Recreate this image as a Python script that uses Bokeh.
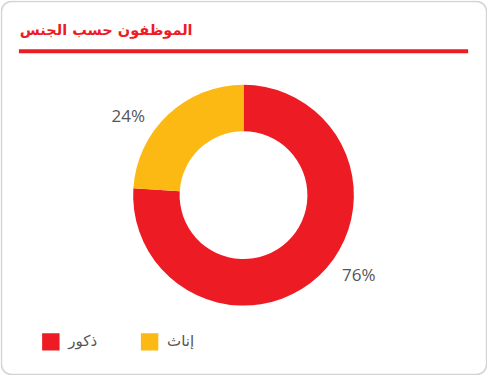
import math
from bokeh.plotting import figure
from bokeh.models import ColumnDataSource, Range1d
from bokeh.core.properties import value
from bokeh.embed import file_html
from bokeh.resources import INLINE

# ---- data ----
categories = ["ذكور", "إناث"]
values = [76, 24]
colors = ["#ED1C24", "#FDB913"]
title_text = "الموظفون حسب الجنس"

W, H = 487, 375        # fits the 503x391 window with its 8px margin
RW, RH = 503, 391      # card coordinate space

def sy(y):             # card y (from top) -> data y (up)
    return RH - y

p = figure(width=W, height=H, output_backend="svg", toolbar_location=None,
           x_range=Range1d(0, RW), y_range=Range1d(0, RH), min_border=0)
p.axis.visible = False
p.grid.visible = False
p.outline_line_color = None
p.background_fill_color = "white"
p.border_fill_color = "white"

# card border
p.quad(left=1, right=RW - 1, bottom=1, top=RH - 1,
       fill_color=None, line_color="#d4d4d4", line_width=1.5, border_radius=10)

# title + rule
p.text(x=[20], y=[sy(31)], text=[title_text], text_color="#ED1C24",
       text_font=value("DejaVu Sans"), text_font_style="bold", text_font_size="14.5px",
       text_align="left", text_baseline="middle")
p.segment(x0=[19], y0=[sy(53)], x1=[483], y1=[sy(53)], line_color="#ED1C24", line_width=4)

# donut
cx, cy = 251, sy(203)
total = sum(values)
starts, ends, mids = [], [], []
acc = 0.0
for v in values:
    a0 = math.pi / 2 - 2 * math.pi * acc / total
    acc += v
    a1 = math.pi / 2 - 2 * math.pi * acc / total
    starts.append(a0); ends.append(a1); mids.append((a0 + a1) / 2)

src = ColumnDataSource(dict(start=starts, end=ends, color=colors))
p.annular_wedge(x=cx, y=cy, inner_radius=66, outer_radius=114,
                start_angle="start", end_angle="end", direction="clock",
                fill_color="color", line_color="white", line_width=0, source=src)

# percent labels
shift = math.radians(12)
lx = [cx + 145 * math.cos(m + shift) for m in mids]
ly = [cy + 145 * math.sin(m + shift) for m in mids]
lbl = [f"{v}%" for v in values]
p.text(x=lx, y=ly, text=lbl, text_color="#555555", text_font=value("Open Sans"),
       text_font_size="17px", text_align="center", text_baseline="middle")

# legend
lgx = [52 + i * 102 for i in range(len(categories))]
p.rect(x=lgx, y=[sy(356)] * len(categories), width=18, height=18,
       fill_color=colors, line_color=None)
p.text(x=[x + 18 for x in lgx], y=[sy(355)] * len(categories), text=categories,
       text_color="#555555", text_font=value("DejaVu Sans"), text_font_size="15px",
       text_align="left", text_baseline="middle")

open("out.html", "w").write(file_html(p, INLINE))
